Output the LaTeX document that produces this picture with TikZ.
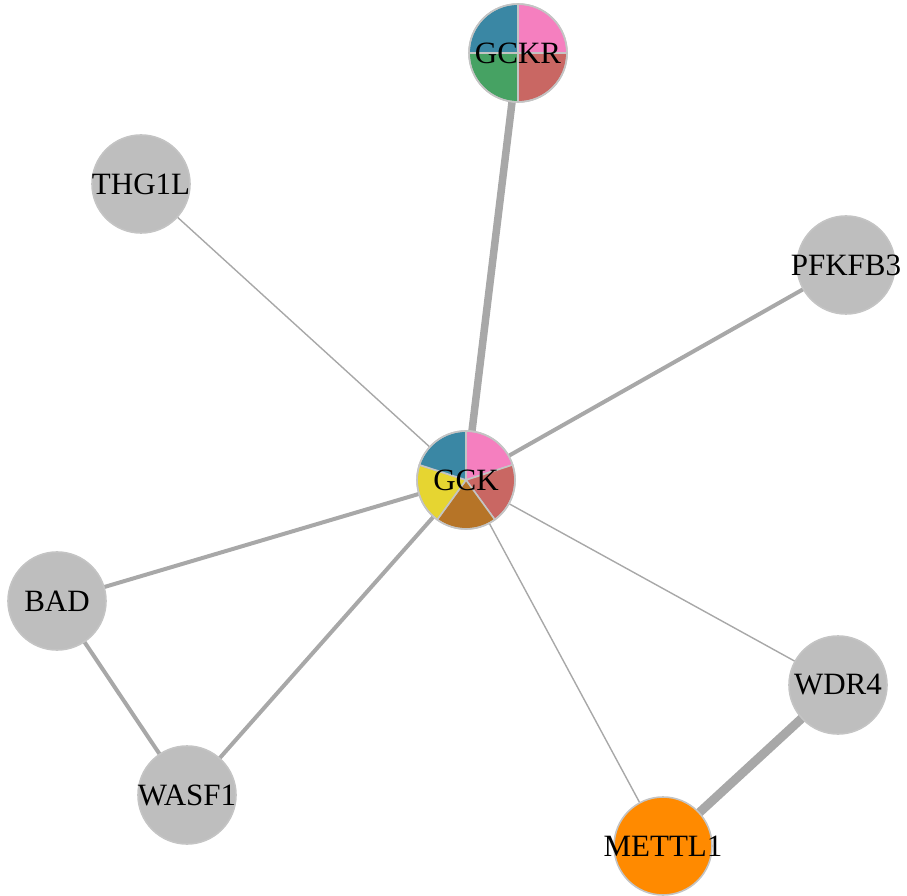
\documentclass[tikz,border=0pt]{standalone}
\usepackage{fontspec}
\setmainfont{Liberation Serif}
\usetikzlibrary{backgrounds}
\begin{document}
\begin{tikzpicture}[x=1pt,y=1pt,
  txt/.style={font=\fontsize{31}{31}\selectfont,inner sep=0pt},
  gene/.style={circle,minimum size=98pt,inner sep=0pt,fill=nodegray,draw=rimgray,line width=1.6pt,
    label={[txt]center:#1}},
  piegene/.style={circle,minimum size=98pt,inner sep=0pt},
  link/.style={draw=edgegray,line cap=butt},
  thin/.style={link,line width=1.4pt},
  mid/.style={link,line width=4pt},
  thick/.style={link,line width=7.5pt},
  heavy/.style={link,line width=9pt},
  slice/.style={draw=rimgray,line width=1.6pt,line join=round}
]
\definecolor{nodegray}{HTML}{BEBEBE}
\definecolor{rimgray}{HTML}{C4C4C4}
\definecolor{edgegray}{HTML}{A8A8A8}
\definecolor{pblue}{HTML}{3A87A4}
\definecolor{ppink}{HTML}{F57FBF}
\definecolor{pred}{HTML}{C96763}
\definecolor{pgreen}{HTML}{46A263}
\definecolor{pbrown}{HTML}{B67427}
\definecolor{pyellow}{HTML}{E6D531}
\definecolor{porange}{HTML}{FF8A00}

\useasboundingbox (0,0) rectangle (907,895);

% plain nodes
\node[gene=THG1L] (THG1L) at (141,711) {};
\node[gene=PFKFB3] (PFKFB3) at (846,630) {};
\node[gene=BAD] (BAD) at (57,294) {};
\node[gene=WDR4] (WDR4) at (838,210) {};
\node[gene=WASF1] (WASF1) at (187,100) {};
\node[gene=METTL1,fill=porange] (METTL1) at (663,49) {};

% pie nodes
\node[piegene] (GCKR) at (518,842) {};
\node[piegene] (GCK) at (466,415) {};

% GCKR pie: four quarters
\foreach \a/\b/\c in {90/0/ppink, 0/-90/pred, -90/-180/pgreen, 180/90/pblue}{
  \filldraw[fill=\c,slice] (GCKR.center) -- ++(\a:49) arc[start angle=\a,end angle=\b,radius=49] -- cycle;
}
\draw[draw=rimgray,line width=1.6pt] (GCKR.center) circle[radius=49];
\node[txt] (tGCKR) at (GCKR.center) {GCKR};

% GCK pie: five slices
\foreach \a/\b/\c in {90/18/ppink, 18/-54/pred, -54/-126/pbrown, -126/-198/pyellow, 162/90/pblue}{
  \filldraw[fill=\c,slice] (GCK.center) -- ++(\a:49) arc[start angle=\a,end angle=\b,radius=49] -- cycle;
}
\draw[draw=rimgray,line width=1.6pt] (GCK.center) circle[radius=49];
\node[txt] (tGCK) at (GCK.center) {GCK};

% edges, behind the nodes
\begin{pgfonlayer}{background}
\draw[thick] (GCKR.center) -- (GCK.center);
\draw[thin] (THG1L.center) -- (GCK.center);
\draw[mid] (PFKFB3.center) -- (GCK.center);
\draw[mid] (BAD.center) -- (GCK.center);
\draw[mid] (WASF1.center) -- (GCK.center);
\draw[thin] (METTL1.center) -- (GCK.center);
\draw[thin] (WDR4.center) -- (GCK.center);
\draw[mid] (BAD.center) -- (WASF1.center);
\draw[heavy] (WDR4.center) -- (METTL1.center);
\end{pgfonlayer}
\end{tikzpicture}
\end{document}
